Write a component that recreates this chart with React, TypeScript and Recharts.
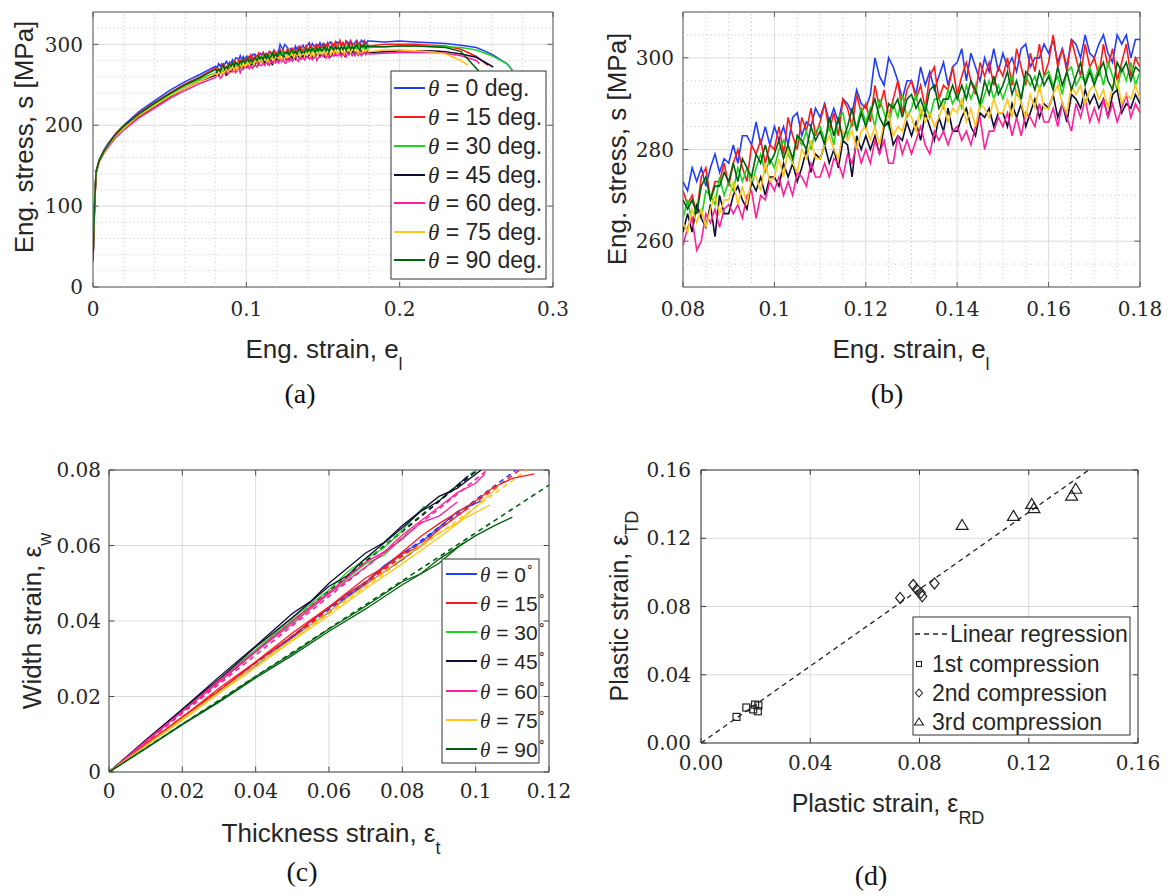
import React from 'react';
import {
  LineChart,
  ComposedChart,
  Line,
  Scatter,
  XAxis,
  YAxis,
  CartesianGrid,
  ReferenceLine,
  ReferenceArea,
} from 'recharts';

const SERIF = '"Liberation Serif", "Times New Roman", serif';
const TICK_FONT = '"DejaVu Serif", "Liberation Serif", serif';
const SANS = '"Liberation Sans", Arial, sans-serif';
const INK = '#262626';

// ---- shared series definitions ----
const angles = [0, 15, 30, 45, 60, 75, 90];
const angleColors = ['#1f3cff', '#ff1a1a', '#1ed21e', '#0d0d33', '#ff1f9a', '#ffc61a', '#00610f'];

// ---- (a) engineering stress-strain, coarse points outside the zoom window ----
const tensileStrain = [0, 0.001, 0.002, 0.004, 0.007, 0.01, 0.015, 0.02, 0.03, 0.04, 0.05, 0.06, 0.07,
  0.19, 0.2, 0.21, 0.22, 0.23, 0.24, 0.25, 0.26, 0.27];
const stress0 = [32, 100, 143, 157, 169, 178, 190, 200, 217, 230, 243, 254, 263, 303, 304, 303, 302, 301, 299, 296, 288, 276];
const stress15 = [33, 101, 143, 157, 168, 177, 190, 199, 215, 228, 240, 251, 260, 300, 300, 300, 299, 298, 294, 285];
const stress30 = [32, 100, 142, 156, 167, 176, 188, 198, 213, 226, 238, 249, 257, 297, 298, 298, 298, 297, 296, 293, 286, 276];
const stress45 = [31, 99, 141, 155, 166, 175, 187, 196, 211, 223, 235, 246, 255, 291, 292, 292, 292, 291, 288, 284];
const stress60 = [30, 98, 140, 154, 165, 173, 185, 194, 209, 221, 233, 243, 252, 289, 290, 290, 290, 289, 286, 280];
const stress75 = [31, 99, 141, 155, 166, 175, 187, 196, 212, 224, 236, 246, 255, 293, 293, 292, 291, 288, 280];
const stress90 = [32, 100, 142, 156, 167, 176, 189, 199, 214, 227, 239, 250, 259, 297, 298, 298, 297, 296, 291];
const fractureStrain = [0.2735, 0.2576, 0.2735, 0.261, 0.252, 0.2446, 0.252];
const fractureStress = [268, 274, 268, 272, 276, 274, 266];

// ---- (b) dense readings of the same tests, 0.08..0.18 ----
const zoomStrain = [
  0.08, 0.081, 0.082, 0.083, 0.084, 0.085, 0.086, 0.087, 0.088, 0.089,
  0.09, 0.091, 0.092, 0.093, 0.094, 0.095, 0.096, 0.097, 0.098, 0.099,
  0.1, 0.101, 0.102, 0.103, 0.104, 0.105, 0.106, 0.107, 0.108, 0.109,
  0.11, 0.111, 0.112, 0.113, 0.114, 0.115, 0.116, 0.117, 0.118, 0.119,
  0.12, 0.121, 0.122, 0.123, 0.124, 0.125, 0.126, 0.127, 0.128, 0.129,
  0.13, 0.131, 0.132, 0.133, 0.134, 0.135, 0.136, 0.137, 0.138, 0.139,
  0.14, 0.141, 0.142, 0.143, 0.144, 0.145, 0.146, 0.147, 0.148, 0.149,
  0.15, 0.151, 0.152, 0.153, 0.154, 0.155, 0.156, 0.157, 0.158, 0.159,
  0.16, 0.161, 0.162, 0.163, 0.164, 0.165, 0.166, 0.167, 0.168, 0.169,
  0.17, 0.171, 0.172, 0.173, 0.174, 0.175, 0.176, 0.177, 0.178, 0.179,
  0.18,
];
const zoom0 = [
  273, 271, 276, 273, 276, 272, 276, 279, 275, 278,
  277, 281, 277, 283, 283, 281, 286, 281, 285, 281,
  285, 282, 285, 281, 287, 288, 283, 286, 285, 289,
  287, 290, 286, 289, 286, 291, 290, 288, 293, 290,
  289, 292, 300, 296, 294, 300, 298, 295, 291, 295,
  295, 292, 298, 294, 297, 293, 296, 299, 294, 298,
  299, 302, 295, 301, 298, 295, 300, 297, 302, 297,
  301, 298, 300, 297, 302, 303, 298, 300, 300, 303,
  301, 304, 299, 302, 298, 304, 303, 300, 305, 301,
  300, 303, 305, 301, 299, 305, 303, 305, 300, 304,
  304,
];
const zoom15 = [
  271, 268, 270, 266, 274, 276, 269, 273, 273, 277,
  272, 277, 280, 276, 273, 281, 279, 282, 277, 281,
  280, 285, 279, 287, 283, 280, 287, 284, 289, 283,
  286, 290, 284, 288, 283, 291, 289, 285, 292, 288,
  290, 286, 294, 289, 293, 287, 291, 295, 288, 293,
  295, 291, 294, 289, 296, 298, 291, 294, 293, 298,
  292, 296, 299, 295, 292, 299, 296, 299, 294, 298,
  296, 300, 294, 302, 298, 294, 301, 297, 303, 296,
  299, 305, 298, 302, 297, 304, 300, 296, 303, 298,
  300, 296, 303, 298, 302, 295, 299, 303, 296, 300,
  298,
];
const zoom30 = [
  265, 269, 264, 268, 265, 271, 270, 268, 274, 270,
  273, 271, 276, 273, 276, 272, 276, 279, 275, 278,
  276, 280, 282, 279, 277, 283, 281, 284, 280, 284,
  285, 282, 285, 281, 287, 288, 283, 286, 285, 289,
  286, 289, 285, 291, 288, 285, 290, 287, 292, 287,
  289, 292, 287, 290, 287, 291, 291, 289, 293, 290,
  292, 289, 294, 291, 294, 289, 292, 295, 291, 294,
  291, 294, 296, 292, 291, 296, 294, 296, 293, 296,
  297, 294, 296, 292, 297, 298, 294, 296, 295, 298,
  295, 298, 294, 299, 296, 293, 298, 295, 299, 294,
  297,
];
const zoom45 = [
  262, 266, 262, 268, 265, 263, 268, 261, 270, 266,
  266, 270, 272, 269, 267, 273, 271, 274, 270, 274,
  274, 272, 277, 274, 277, 273, 276, 280, 275, 279,
  278, 281, 277, 280, 276, 282, 281, 274, 283, 280,
  283, 280, 283, 279, 285, 286, 281, 283, 282, 286,
  283, 286, 282, 288, 285, 282, 287, 284, 289, 284,
  284, 287, 289, 285, 283, 288, 287, 289, 285, 288,
  288, 285, 290, 287, 290, 285, 288, 291, 287, 290,
  289, 292, 287, 290, 286, 292, 291, 289, 293, 290,
  292, 289, 291, 287, 292, 293, 288, 290, 289, 292,
  290,
];
const zoom60 = [
  259, 263, 265, 258, 260, 266, 264, 267, 263, 267,
  268, 266, 268, 265, 270, 271, 265, 270, 269, 273,
  271, 274, 270, 273, 270, 275, 274, 272, 277, 274,
  274, 277, 274, 278, 277, 274, 279, 277, 281, 277,
  280, 277, 282, 279, 282, 277, 277, 283, 279, 282,
  279, 282, 285, 281, 279, 284, 282, 284, 281, 284,
  285, 282, 284, 281, 285, 287, 280, 284, 284, 287,
  285, 288, 283, 287, 283, 288, 287, 285, 290, 286,
  286, 289, 285, 290, 287, 284, 290, 287, 291, 286,
  289, 286, 291, 287, 290, 286, 289, 292, 287, 290,
  288,
];
const zoom75 = [
  264, 262, 267, 264, 267, 263, 267, 270, 266, 269,
  269, 273, 268, 272, 268, 274, 274, 271, 277, 273,
  274, 278, 274, 280, 277, 275, 280, 278, 282, 278,
  278, 281, 283, 280, 278, 284, 282, 284, 280, 284,
  285, 282, 285, 281, 286, 288, 283, 285, 284, 288,
  287, 284, 289, 286, 288, 285, 287, 290, 286, 289,
  288, 291, 286, 289, 285, 290, 289, 287, 291, 288,
  288, 291, 287, 293, 290, 287, 292, 289, 294, 289,
  289, 292, 294, 290, 288, 294, 292, 294, 290, 293,
  294, 291, 293, 289, 294, 295, 290, 292, 291, 294,
  291,
];
const zoom90 = [
  269, 267, 269, 266, 272, 274, 269, 272, 272, 275,
  273, 277, 273, 278, 276, 274, 279, 277, 281, 277,
  279, 282, 278, 281, 278, 283, 282, 280, 285, 282,
  284, 281, 287, 283, 287, 282, 285, 289, 284, 288,
  285, 288, 291, 287, 285, 290, 289, 291, 287, 291,
  292, 289, 291, 288, 293, 294, 289, 291, 291, 294,
  291, 294, 291, 295, 293, 290, 295, 292, 296, 292,
  294, 297, 292, 295, 291, 297, 296, 293, 297, 294,
  296, 293, 298, 294, 297, 293, 296, 299, 294, 297,
  294, 297, 299, 295, 293, 299, 297, 299, 295, 298,
  297,
];

// ---- (c) width strain vs thickness strain, two specimens per angle + fitted line ----
const w0a = [[0, 0], [0.01, 0.0072], [0.02, 0.0145], [0.03, 0.0213], [0.04, 0.0290], [0.05, 0.0358], [0.055, 0.0399], [0.06, 0.0434], [0.065, 0.0472], [0.07, 0.0503], [0.075, 0.0546], [0.08, 0.0580], [0.085, 0.0608], [0.09, 0.0648], [0.095, 0.0690], [0.1015, 0.0718]];
const w0b = [[0, 0], [0.01, 0.0071], [0.02, 0.0140], [0.03, 0.0214], [0.04, 0.0282], [0.05, 0.0356], [0.06, 0.0423], [0.065, 0.0465], [0.07, 0.0497], [0.08, 0.0563], [0.088, 0.0622]];
const w15a = [[0, 0], [0.01, 0.0074], [0.02, 0.0145], [0.03, 0.0222], [0.04, 0.0292], [0.05, 0.0368], [0.06, 0.0438], [0.07, 0.0514], [0.075, 0.0542], [0.08, 0.0583], [0.085, 0.0624], [0.09, 0.0658], [0.1, 0.0718], [0.105, 0.0755], [0.11, 0.0778], [0.116, 0.0790]];
const w15b = [[0, 0], [0.01, 0.0072], [0.02, 0.0146], [0.03, 0.0215], [0.04, 0.0291], [0.05, 0.0360], [0.06, 0.0437], [0.07, 0.0503], [0.08, 0.0578], [0.085, 0.0598], [0.09, 0.0643], [0.098, 0.0700]];
const w30a = [[0, 0], [0.01, 0.0083], [0.02, 0.0162], [0.03, 0.0246], [0.04, 0.0324], [0.05, 0.0407], [0.06, 0.0483], [0.065, 0.0530], [0.07, 0.0565], [0.075, 0.0594], [0.08, 0.0640], [0.086, 0.0705]];
const w30b = [[0, 0], [0.01, 0.0081], [0.02, 0.0160], [0.03, 0.0241], [0.04, 0.0318], [0.05, 0.0398], [0.06, 0.0474], [0.07, 0.0552], [0.075, 0.0574], [0.0823, 0.0642]];
const w45a = [[0, 0], [0.01, 0.0085], [0.02, 0.0166], [0.03, 0.0252], [0.04, 0.0334], [0.05, 0.0420], [0.055, 0.0452], [0.06, 0.0500], [0.07, 0.0580], [0.075, 0.0608], [0.08, 0.0653], [0.09, 0.0730], [0.095, 0.0752], [0.1015, 0.0800]];
const w45b = [[0, 0], [0.01, 0.0082], [0.02, 0.0166], [0.03, 0.0246], [0.04, 0.0331], [0.05, 0.0409], [0.06, 0.0492], [0.065, 0.0520], [0.07, 0.0566], [0.08, 0.0647], [0.085, 0.0690], [0.09, 0.0718], [0.098, 0.0785]];
const w60a = [[0, 0], [0.01, 0.0082], [0.02, 0.0161], [0.03, 0.0243], [0.04, 0.0320], [0.05, 0.0401], [0.06, 0.0476], [0.07, 0.0556], [0.075, 0.0583], [0.08, 0.0628], [0.09, 0.0702], [0.095, 0.0740], [0.1, 0.0765], [0.1025, 0.0790]];
const w60b = [[0, 0], [0.01, 0.0079], [0.02, 0.0161], [0.03, 0.0238], [0.04, 0.0319], [0.05, 0.0393], [0.06, 0.0472], [0.07, 0.0543], [0.08, 0.0617], [0.085, 0.0660], [0.09, 0.0678], [0.095, 0.0715]];
const w75a = [[0, 0], [0.01, 0.0070], [0.02, 0.0141], [0.03, 0.0211], [0.04, 0.0284], [0.05, 0.0352], [0.06, 0.0425], [0.07, 0.0494], [0.08, 0.0566], [0.09, 0.0633], [0.095, 0.0660], [0.1, 0.0702], [0.1058, 0.0752]];
const w75b = [[0, 0], [0.01, 0.0069], [0.02, 0.0137], [0.03, 0.0209], [0.04, 0.0277], [0.05, 0.0348], [0.06, 0.0415], [0.07, 0.0486], [0.08, 0.0552], [0.09, 0.0621], [0.097, 0.0672], [0.104, 0.0708]];
const w90a = [[0, 0], [0.01, 0.0063], [0.02, 0.0127], [0.03, 0.0188], [0.04, 0.0253], [0.05, 0.0314], [0.06, 0.0379], [0.07, 0.0439], [0.08, 0.0504], [0.085, 0.0525], [0.09, 0.0564], [0.1, 0.0626], [0.105, 0.0652], [0.11, 0.0675]];
const w90b = [[0, 0], [0.01, 0.0062], [0.02, 0.0125], [0.03, 0.0185], [0.04, 0.0249], [0.05, 0.0309], [0.06, 0.0373], [0.07, 0.0432], [0.08, 0.0496], [0.09, 0.0553], [0.0967, 0.0608]];
const fitEndThickness = [0.111, 0.112, 0.1, 0.1005, 0.1032, 0.114, 0.12];
const fitEndWidth = [0.08, 0.08, 0.08, 0.08, 0.08, 0.08, 0.076];

// ---- (d) plastic strain RD vs TD ----
const firstRD = [0.013, 0.0166, 0.0191, 0.0198, 0.021, 0.0208];
const firstTD = [0.0153, 0.0208, 0.0197, 0.0225, 0.022, 0.0186];
const secondRD = [0.0729, 0.0777, 0.079, 0.0805, 0.081, 0.0855];
const secondTD = [0.085, 0.0926, 0.09, 0.088, 0.086, 0.0935];
const thirdRD = [0.0956, 0.1144, 0.1211, 0.1219, 0.1357, 0.1372];
const thirdTD = [0.1278, 0.1331, 0.1401, 0.1376, 0.145, 0.149];
const regressionRD = [0, 0.142];
const regressionTD = [0, 0.16];

// ---- ticks ----
const aXTicks = [0, 0.1, 0.2, 0.3];
const aXMinor = [0.02, 0.04, 0.06, 0.08, 0.12, 0.14, 0.16, 0.18, 0.22, 0.24, 0.26, 0.28];
const aYTicks = [0, 100, 200, 300];
const aYMinor = [20, 40, 60, 80, 120, 140, 160, 180, 220, 240, 260, 280, 320];
const bXTicks = [0.08, 0.1, 0.12, 0.14, 0.16, 0.18];
const bXMinor = [0.085, 0.09, 0.095, 0.105, 0.11, 0.115, 0.125, 0.13, 0.135, 0.145, 0.15, 0.155, 0.165, 0.17, 0.175];
const bYTicks = [260, 280, 300];
const bYMinor = [255, 265, 270, 275, 285, 290, 295, 305];
const cXTicks = [0, 0.02, 0.04, 0.06, 0.08, 0.1, 0.12];
const cYTicks = [0, 0.02, 0.04, 0.06, 0.08];
const dTicks = [0, 0.04, 0.08, 0.12, 0.16];

const zip = (xs: number[], ys: number[]) => ys.map((y, i) => ({ x: xs[i], y }));
const pairs = (p: number[][]) => p.map(([x, y]) => ({ x, y }));
const fmt = (v: number) => String(parseFloat(v.toFixed(4)));
const fmt2 = (v: number) => v.toFixed(2);

const tensileStress = [stress0, stress15, stress30, stress45, stress60, stress75, stress90];
const zoomStress = [zoom0, zoom15, zoom30, zoom45, zoom60, zoom75, zoom90];
const widthCurves = [[w0a, w0b], [w15a, w15b], [w30a, w30b], [w45a, w45b], [w60a, w60b], [w75a, w75b], [w90a, w90b]];

// full curve for panel (a): coarse start, dense middle, coarse end, fracture point
const fullCurve = (i: number) => {
  const coarse = zip(tensileStrain, tensileStress[i]);
  return [
    ...coarse.filter((p) => p.x < 0.08),
    ...zip(zoomStrain, zoomStress[i]),
    ...coarse.filter((p) => p.x > 0.18),
    { x: fractureStrain[i], y: fractureStress[i] },
  ];
};

const gridColor = '#dcdcdc';
const minorColor = '#c8c8c8';

const xTick = (f: (v: number) => string) => (p: any) => (
  <text x={p.x} y={p.y} dy="0.71em" textAnchor="middle" fill={INK} fontSize={20} fontFamily={TICK_FONT}>
    {f(p.payload.value)}
  </text>
);
const yTick = (f: (v: number) => string) => (p: any) => (
  <text x={p.x} y={p.y} dy="0.36em" textAnchor="end" fill={INK} fontSize={20} fontFamily={TICK_FONT}>
    {f(p.payload.value)}
  </text>
);

const xAxisProps = {
  type: 'number' as const,
  dataKey: 'x',
  allowDataOverflow: true,
  axisLine: false,
  tickLine: false,
  tickSize: 0,
  interval: 0 as const,
};
const yAxisProps = {
  type: 'number' as const,
  dataKey: 'y',
  allowDataOverflow: true,
  axisLine: false,
  tickLine: false,
  tickSize: 0,
  interval: 0 as const,
};

const minorLines = (xs: number[], ys: number[]) => [
  ...xs.map((v) => <ReferenceLine key={`mx${v}`} x={v} stroke={minorColor} strokeDasharray="1 3" />),
  ...ys.map((v) => <ReferenceLine key={`my${v}`} y={v} stroke={minorColor} strokeDasharray="1 3" />),
];

// MATLAB-style inward tick marks on all four sides of the box
const inwardTicks = (xt: number[], yt: number[], xd: number[], yd: number[], color: string) => {
  const ly = (yd[1] - yd[0]) * 0.018;
  const lx = (xd[1] - xd[0]) * 0.012;
  return [
    ...xt.flatMap((t) => [
      <ReferenceLine key={`tb${t}`} segment={[{ x: t, y: yd[0] }, { x: t, y: yd[0] + ly }]} stroke={color} />,
      <ReferenceLine key={`tt${t}`} segment={[{ x: t, y: yd[1] }, { x: t, y: yd[1] - ly }]} stroke={color} />,
    ]),
    ...yt.flatMap((t) => [
      <ReferenceLine key={`tl${t}`} segment={[{ x: xd[0], y: t }, { x: xd[0] + lx, y: t }]} stroke={color} />,
      <ReferenceLine key={`tr${t}`} segment={[{ x: xd[1], y: t }, { x: xd[1] - lx, y: t }]} stroke={color} />,
    ]),
  ];
};

const PanelA = () => (
  <LineChart width={580} height={330} margin={{ top: 12, right: 27, bottom: 0, left: 0 }}>
    <CartesianGrid stroke={gridColor} />
    {minorLines(aXMinor, aYMinor)}
    <XAxis {...xAxisProps} domain={[0, 0.3]} ticks={aXTicks} tick={xTick(fmt)} tickMargin={15} height={43} />
    <YAxis {...yAxisProps} domain={[0, 340]} ticks={aYTicks} tick={yTick(fmt)} tickMargin={10} width={93} />
    {angles.map((a, i) => (
      <Line
        key={a}
        data={fullCurve(i)}
        dataKey="y"
        stroke={angleColors[i]}
        strokeWidth={1.5}
        dot={false}
        isAnimationActive={false}
      />
    ))}
    {inwardTicks(aXTicks, aYTicks, [0, 0.3], [0, 340], '#5a5a5a')}
    <ReferenceArea x1={0} x2={0.3} y1={0} y2={340} fill="none" stroke="#5a5a5a" ifOverflow="visible" />
  </LineChart>
);

const PanelB = () => (
  <LineChart width={578} height={330} margin={{ top: 12, right: 28, bottom: 0, left: 0 }}>
    <CartesianGrid stroke={gridColor} />
    {minorLines(bXMinor, bYMinor)}
    <XAxis {...xAxisProps} domain={[0.08, 0.18]} ticks={bXTicks} tick={xTick(fmt)} tickMargin={15} height={43} />
    <YAxis {...yAxisProps} domain={[250, 310]} ticks={bYTicks} tick={yTick(fmt)} tickMargin={9} width={93} />
    {angles.map((a, i) => (
      <Line
        key={a}
        data={zip(zoomStrain, zoomStress[i])}
        dataKey="y"
        stroke={angleColors[i]}
        strokeWidth={1.6}
        dot={false}
        isAnimationActive={false}
      />
    ))}
    {inwardTicks(bXTicks, bYTicks, [0.08, 0.18], [250, 310], '#5a5a5a')}
    <ReferenceArea x1={0.08} x2={0.18} y1={250} y2={310} fill="none" stroke="#5a5a5a" ifOverflow="visible" />
  </LineChart>
);

const PanelC = () => (
  <LineChart width={575} height={385} margin={{ top: 40, right: 26, bottom: 0, left: 0 }}>
    <CartesianGrid stroke={gridColor} />
    <XAxis {...xAxisProps} domain={[0, 0.12]} ticks={cXTicks} tick={xTick(fmt)} tickMargin={12} height={43} />
    <YAxis {...yAxisProps} domain={[0, 0.08]} ticks={cYTicks} tick={yTick(fmt)} tickMargin={8} width={109} />
    {angles.map((a, i) => (
      <Line
        key={`fit${a}`}
        data={[{ x: 0, y: 0 }, { x: fitEndThickness[i], y: fitEndWidth[i] }]}
        dataKey="y"
        stroke={angleColors[i]}
        strokeWidth={1.6}
        strokeDasharray="5 4"
        dot={false}
        isAnimationActive={false}
      />
    ))}
    {angles.map((a, i) =>
      widthCurves[i].map((c, j) => (
        <Line
          key={`c${a}-${j}`}
          data={pairs(c)}
          dataKey="y"
          stroke={angleColors[i]}
          strokeWidth={1.3}
          dot={false}
          isAnimationActive={false}
        />
      ))
    )}
    {inwardTicks(cXTicks, cYTicks, [0, 0.12], [0, 0.08], '#4a4a4a')}
    <ReferenceArea x1={0} x2={0.12} y1={0} y2={0.08} fill="none" stroke="#4a4a4a" ifOverflow="visible" />
  </LineChart>
);

const Square = (p: any) => (
  <rect x={p.cx - 3.5} y={p.cy - 3.5} width={7} height={7} fill="none" stroke="#222" strokeWidth={1.2} />
);
const Diamond = (p: any) => (
  <polygon
    points={`${p.cx},${p.cy - 5.5} ${p.cx + 4.5},${p.cy} ${p.cx},${p.cy + 5.5} ${p.cx - 4.5},${p.cy}`}
    fill="none"
    stroke="#222"
    strokeWidth={1.2}
  />
);
const Triangle = (p: any) => (
  <polygon
    points={`${p.cx},${p.cy - 5.5} ${p.cx + 6},${p.cy + 4.5} ${p.cx - 6},${p.cy + 4.5}`}
    fill="none"
    stroke="#222"
    strokeWidth={1.2}
  />
);

const PanelD = () => (
  <ComposedChart width={574} height={356} margin={{ top: 40, right: 26, bottom: 0, left: 0 }}>
    <CartesianGrid stroke={gridColor} />
    <XAxis {...xAxisProps} domain={[0, 0.16]} ticks={dTicks} tick={xTick(fmt2)} tickMargin={13} height={43} />
    <YAxis {...yAxisProps} domain={[0, 0.16]} ticks={dTicks} tick={yTick(fmt2)} tickMargin={10} width={111} />
    <Line
      data={zip(regressionRD, regressionTD)}
      dataKey="y"
      stroke="#222"
      strokeWidth={1.3}
      strokeDasharray="5 4"
      dot={false}
      isAnimationActive={false}
    />
    <Scatter data={zip(firstRD, firstTD)} shape={Square} isAnimationActive={false} />
    <Scatter data={zip(secondRD, secondTD)} shape={Diamond} isAnimationActive={false} />
    <Scatter data={zip(thirdRD, thirdTD)} shape={Triangle} isAnimationActive={false} />
    {inwardTicks(dTicks, dTicks, [0, 0.16], [0, 0.16], '#3a3a3a')}
    <ReferenceArea x1={0} x2={0.16} y1={0} y2={0.16} fill="none" stroke="#3a3a3a" ifOverflow="visible" />
  </ComposedChart>
);

const Overlay = () => {
  const aRows = [88, 117, 146, 175, 203, 232, 260];
  const cRows = [574, 603, 632, 661, 691, 720, 749];
  const dRows = [634, 664, 693, 722];
  const dLabels = ['Linear regression', '1st compression', '2nd compression', '3rd compression'];
  return (
    <svg width={1169} height={896} style={{ position: 'absolute', left: 0, top: 0, pointerEvents: 'none' }}>
      {/* legend (a) */}
      <rect x={391} y={71} width={155} height={208} fill="#fff" stroke="#333" strokeWidth={1} />
      {angles.map((a, i) => (
        <g key={a}>
          <line x1={394} x2={425} y1={aRows[i]} y2={aRows[i]} stroke={angleColors[i]} strokeWidth={2} />
          <text x={428} y={aRows[i] + 8} fontSize={23} fill={INK} fontFamily={SANS}>
            <tspan fontFamily={SERIF} fontStyle="italic">θ</tspan>
            {` = ${a} deg.`}
          </text>
        </g>
      ))}
      {/* legend (c) */}
      <rect x={442} y={559} width={97} height={204} fill="#fff" stroke="#333" strokeWidth={1} />
      {angles.map((a, i) => (
        <g key={a}>
          <line x1={446} x2={477} y1={cRows[i]} y2={cRows[i]} stroke={angleColors[i]} strokeWidth={2} />
          <text x={480} y={cRows[i] + 8} fontSize={21} fill={INK} fontFamily={SANS}>
            <tspan fontFamily={SERIF} fontStyle="italic">θ</tspan>
            {` = ${a}`}
            <tspan dy={-11} fontSize={12}>∘</tspan>
          </text>
        </g>
      ))}
      {/* legend (d) */}
      <rect x={913} y={617} width={217} height={118} fill="#fff" stroke="#333" strokeWidth={1} />
      <line x1={915} x2={948} y1={dRows[0]} y2={dRows[0]} stroke="#222" strokeWidth={1.3} strokeDasharray="5 4" />
      <rect x={916.5} y={dRows[1] - 2.5} width={5} height={5} fill="none" stroke="#222" strokeWidth={1.1} />
      <polygon points={`919,${dRows[2] - 4} 922.5,${dRows[2]} 919,${dRows[2] + 4} 915.5,${dRows[2]}`} fill="none" stroke="#222" strokeWidth={1.1} />
      <polygon points={`919,${dRows[3] - 4} 923.5,${dRows[3] + 3} 914.5,${dRows[3] + 3}`} fill="none" stroke="#222" strokeWidth={1.1} />
      {dLabels.map((t, i) => (
        <text key={t} x={i === 0 ? 950 : 932} y={dRows[i] + 8} fontSize={23} fill={INK} fontFamily={SANS}>
          {t}
        </text>
      ))}

      {/* axis labels */}
      <g fontFamily={SANS} fill={INK} fontSize={26}>
        <text x={324} y={358} textAnchor="middle">
          Eng. strain, e<tspan dy={12} fontSize={18}>l</tspan>
        </text>
        <text transform="translate(33,137) rotate(-90)" textAnchor="middle">Eng. stress, s [MPa]</text>
        <text x={911} y={358} textAnchor="middle">
          Eng. strain, e<tspan dy={12} fontSize={18}>l</tspan>
        </text>
        <text transform="translate(626,149) rotate(-90)" textAnchor="middle">Eng. stress, s [MPa]</text>
        <text x={331} y={842} textAnchor="middle">
          Thickness strain, ε<tspan dy={12} fontSize={18}>t</tspan>
        </text>
        <text transform="translate(41,621) rotate(-90)" textAnchor="middle">
          Width strain, ε<tspan dy={10} fontSize={18}>w</tspan>
        </text>
        <text x={888} y={812} textAnchor="middle" fontSize={25}>
          Plastic strain, ε<tspan dy={12} fontSize={18}>RD</tspan>
        </text>
        <text transform="translate(628,606) rotate(-90)" textAnchor="middle" fontSize={25}>
          Plastic strain, ε<tspan dy={10} fontSize={18}>TD</tspan>
        </text>
      </g>
      {/* captions */}
      <g fontFamily={SERIF} fill="#111" fontSize={28} textAnchor="middle">
        <text x={300} y={403}>(a)</text>
        <text x={887} y={403}>(b)</text>
        <text x={302} y={881}>(c)</text>
        <text x={871} y={885}>(d)</text>
      </g>
    </svg>
  );
};

export default function App() {
  return (
    <div style={{ position: 'absolute', left: 0, top: 0, width: 1169, height: 896, background: '#fff', overflow: 'hidden' }}>
      <div style={{ position: 'absolute', left: 0, top: 0 }}>
        <PanelA />
      </div>
      <div style={{ position: 'absolute', left: 590, top: 0 }}>
        <PanelB />
      </div>
      <div style={{ position: 'absolute', left: 0, top: 430 }}>
        <PanelC />
      </div>
      <div style={{ position: 'absolute', left: 590, top: 430 }}>
        <PanelD />
      </div>
      <Overlay />
    </div>
  );
}
